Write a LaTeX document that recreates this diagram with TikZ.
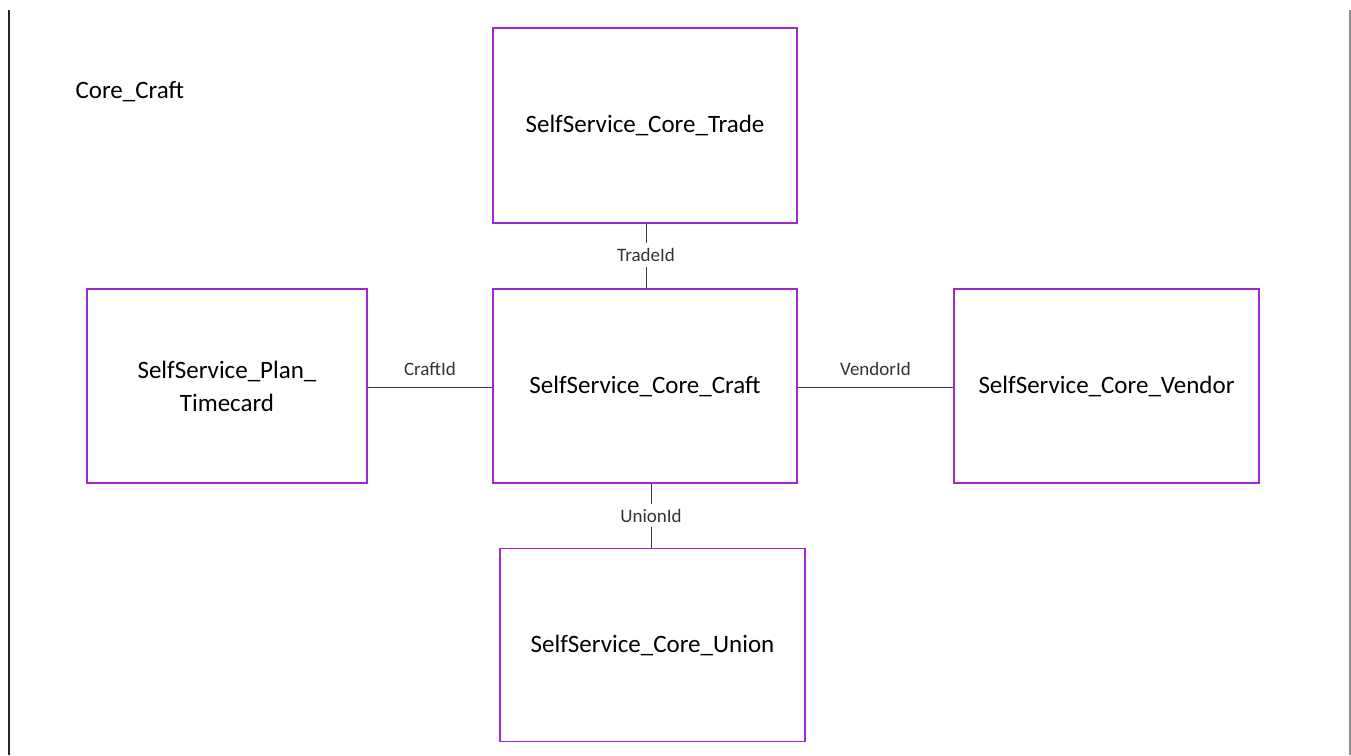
\documentclass[tikz,border=0pt]{standalone}
\usepackage{fontspec}
\setmainfont{Carlito}
\definecolor{boxpurple}{RGB}{160,40,210}
\definecolor{linegray}{RGB}{60,60,60}
\tikzset{
    table/.style = {draw=boxpurple, line width=1.5pt, align=center, inner sep=0pt,
        font=\fontsize{25}{33}\selectfont},
    link/.style = {draw=linegray, line width=1pt},
    key/.style = {font=\fontsize{19}{22}\selectfont, text=black!80},
}
\begin{document}
\begin{tikzpicture}[x = 1pt, y = -1pt]
    \useasboundingbox (0,0) rectangle (1351,755);
    \coordinate (lefttop) at (8.5,10);
    \coordinate (leftbot) at (8.5,755);
    \coordinate (righttop) at (1349.5,10);
    \coordinate (rightbot) at (1349.5,755);
    \draw [line width=2pt, color=black!85] (lefttop) -- (leftbot);
    \draw [line width=2pt, color=black!45] (righttop) -- (rightbot);
    \node [font=\fontsize{25}{30}\selectfont, anchor=west] (title) at (72,92) {Core\_Craft};
    \node [table, minimum width=304pt, minimum height=195pt] (trade) at (645,125.5) {SelfService\_Core\_Trade};
    \node [table, minimum width=304pt, minimum height=194pt] (craft) at (645,386) {SelfService\_Core\_Craft};
    \node [table, minimum width=280pt, minimum height=194pt] (timecard) at (227,386) {SelfService\_Plan\_\\Timecard};
    \node [table, minimum width=305pt, minimum height=194pt] (vendor) at (1106.5,386) {SelfService\_Core\_Vendor};
    \node [table, minimum width=305pt, minimum height=193pt] (union) at (652.5,645) {SelfService\_Core\_Union};
    \draw [link] ([xshift=1pt]trade.south) -- node [key, fill=white, inner ysep=5pt, yshift=1pt] (tradeid) {TradeId} ([xshift=1pt]craft.north);
    \draw [link] ([xshift=-1.5pt]union.north |- craft.south) -- node [key, fill=white, inner ysep=5pt] (unionid) {UnionId} ([xshift=-1.5pt]union.north);
    \draw [link] ([yshift=-1pt]timecard.east) -- node [key, above, yshift=8pt] (craftid) {CraftId} ([yshift=-1pt]craft.west);
    \draw [link] ([yshift=-1pt]craft.east) -- node [key, above, yshift=8pt] (vendorid) {VendorId} ([yshift=-1pt]vendor.west);
\end{tikzpicture}
\end{document}
